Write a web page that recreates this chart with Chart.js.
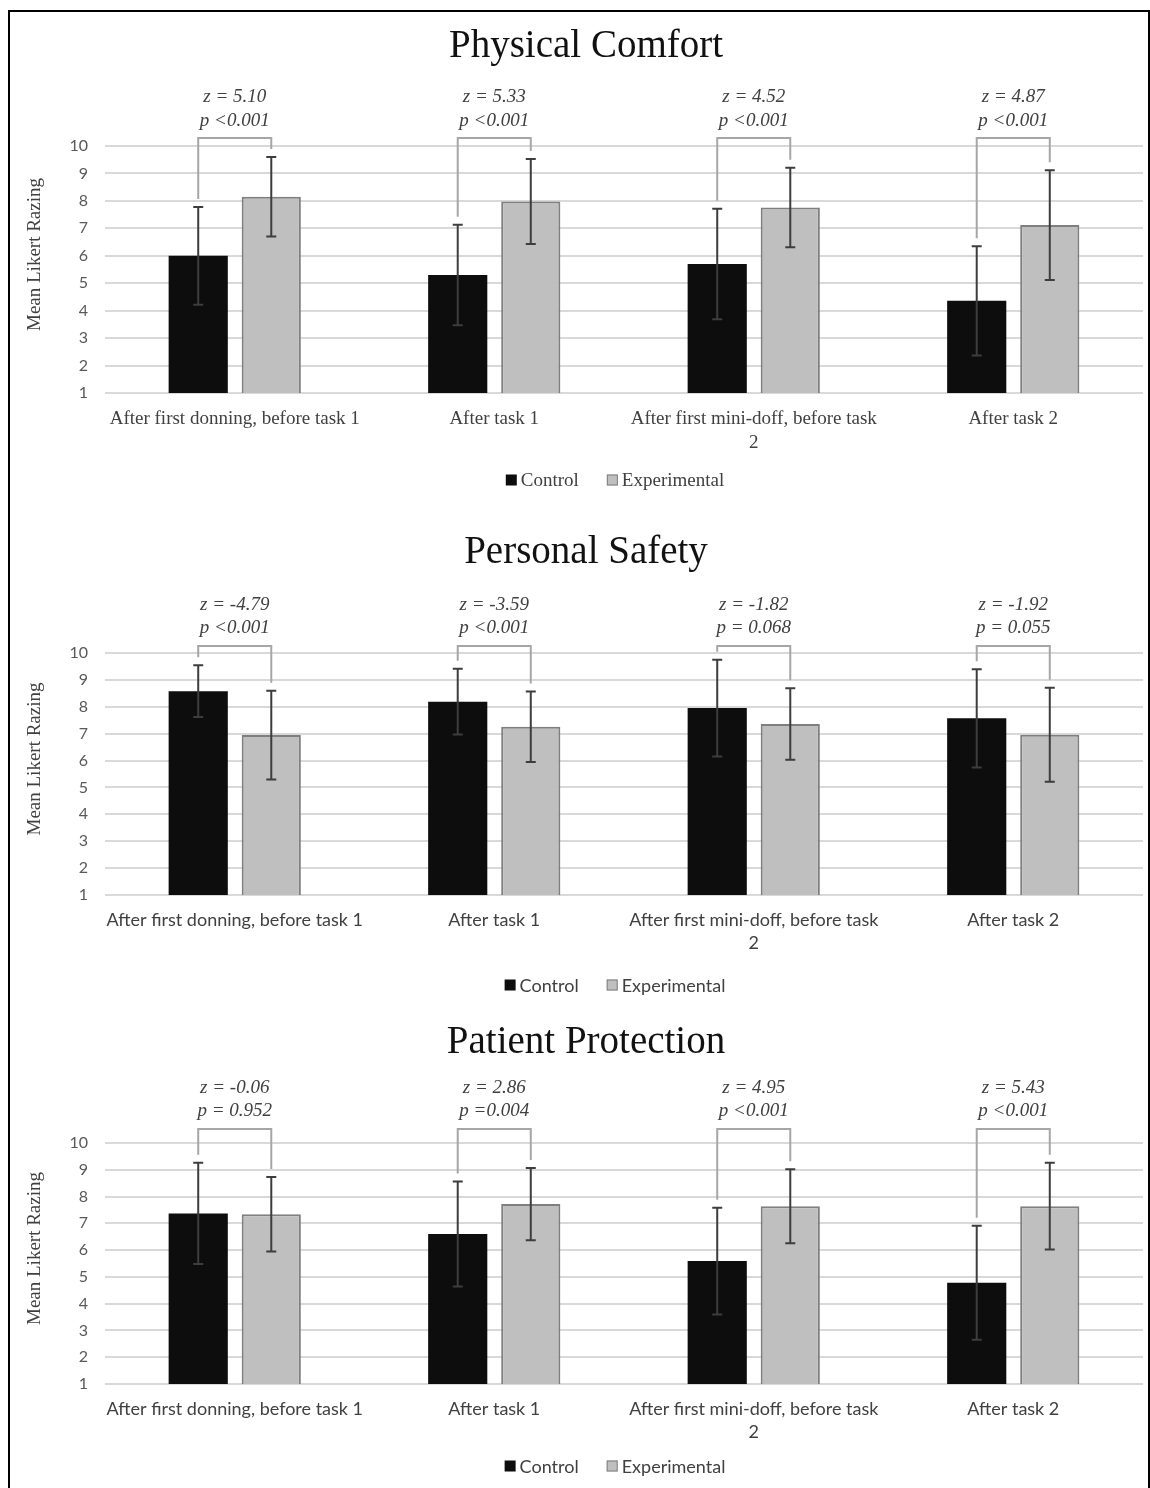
<!DOCTYPE html>
<html>
<head>
<meta charset="utf-8">
<script src="https://cdn.jsdelivr.net/npm/chart.js@4.4.0/dist/chart.umd.min.js"></script>
<style>
  body { margin: 0; background: #fff; width: 1150px; height: 1488px; position: relative; overflow: hidden; }
  #frame { position: absolute; left: 8px; top: 10px; width: 1138px; height: 1520px; border: 2px solid #000; border-bottom: none; }
  .panel { position: absolute; left: 10px; }
  canvas { display: block; }
</style>
</head>
<body>
<div id="frame"></div>
<div class="panel" style="top:12px"><canvas id="comfort" width="1136" height="490"></canvas></div>
<div class="panel" style="top:518px"><canvas id="safety" width="1136" height="485"></canvas></div>
<div class="panel" style="top:1008px"><canvas id="protection" width="1136" height="478"></canvas></div>

<script>
// categories (x axis)
const categories = [
  "After first donning, before task 1",
  "After task 1",
  ["After first mini-doff, before task", "2"],
  "After task 2"
];
const yTicks = [1, 2, 3, 4, 5, 6, 7, 8, 9, 10];

// Physical Comfort
const comfortControl = [6.0, 5.3, 5.7, 4.36];
const comfortControlSd = [1.78, 1.83, 2.01, 1.99];
const comfortExp = [8.15, 7.98, 7.76, 7.12];
const comfortExpSd = [1.45, 1.55, 1.45, 2.0];
const comfortZ = ["z = 5.10", "z = 5.33", "z = 4.52", "z = 4.87"];
const comfortP = ["p <0.001", "p <0.001", "p <0.001", "p <0.001"];

// Personal Safety
const safetyControl = [8.58, 8.19, 7.95, 7.57];
const safetyControlSd = [0.96, 1.22, 1.8, 1.83];
const safetyExp = [6.95, 7.26, 7.36, 6.96];
const safetyExpSd = [1.65, 1.31, 1.33, 1.75];
const safetyZ = ["z = -4.79", "z = -3.59", "z = -1.82", "z = -1.92"];
const safetyP = ["p <0.001", "p <0.001", "p = 0.068", "p = 0.055"];

// Patient Protection
const protectControl = [7.37, 6.6, 5.59, 4.78];
const protectControlSd = [1.89, 1.96, 1.99, 2.13];
const protectExp = [7.34, 7.72, 7.64, 7.64];
const protectExpSd = [1.39, 1.35, 1.38, 1.62];
const protectZ = ["z = -0.06", "z = 2.86", "z = 4.95", "z = 5.43"];
const protectP = ["p = 0.952", "p =0.004", "p <0.001", "p <0.001"];

const yTitle = "Mean Likert Razing";

const SERIF = '"Liberation Serif", "Times New Roman", serif';
const SANS = 'Lato, "Open Sans", sans-serif';

// error bars, brackets, z/p notes, titles and legend
const decorPlugin = {
  id: "decor",
  afterDatasetsDraw(chart, args, opts) {
    const { ctx, chartArea } = chart;
    const y = chart.scales.y;
    const ds = chart.data.datasets;
    const ctrl = chart.getDatasetMeta(0);
    const exp = chart.getDatasetMeta(1);
    ctx.save();

    // error bars
    [ctrl, exp].forEach((meta, di) => {
      meta.data.forEach((bar, i) => {
        const m = ds[di].data[i], e = ds[di].errors[i];
        const yt = y.getPixelForValue(m + e), yb = y.getPixelForValue(m - e);
        ctx.strokeStyle = "#3d3d3d";
        ctx.lineWidth = 2;
        ctx.beginPath();
        ctx.moveTo(bar.x, yt); ctx.lineTo(bar.x, yb);
        ctx.moveTo(bar.x - 5, yt); ctx.lineTo(bar.x + 5, yt);
        ctx.moveTo(bar.x - 5, yb); ctx.lineTo(bar.x + 5, yb);
        ctx.stroke();
      });
    });

    // brackets and test statistics
    const top = y.getPixelForValue(10) - opts.bracketGap;
    ctrl.data.forEach((bar, i) => {
      const bar2 = exp.data[i];
      const y1 = y.getPixelForValue(ds[0].data[i] + ds[0].errors[i]) - 8;
      const y2 = y.getPixelForValue(ds[1].data[i] + ds[1].errors[i]) - 8;
      ctx.strokeStyle = "#a6a6a6";
      ctx.lineWidth = 2;
      ctx.beginPath();
      ctx.moveTo(bar.x, y1); ctx.lineTo(bar.x, top);
      ctx.lineTo(bar2.x, top); ctx.lineTo(bar2.x, y2);
      ctx.stroke();

      const cx = (bar.x + bar2.x) / 2;
      ctx.fillStyle = "#404040";
      ctx.font = "italic 19px " + SERIF;
      ctx.textAlign = "center";
      ctx.textBaseline = "alphabetic";
      ctx.fillText(opts.z[i], cx, chartArea.top - opts.zGap);
      ctx.fillText(opts.p[i], cx, chartArea.top - opts.pGap);
    });

    // chart title
    ctx.fillStyle = "#111";
    ctx.font = "39px " + SERIF;
    ctx.textAlign = "center";
    ctx.textBaseline = "middle";
    ctx.fillText(opts.title, 576, 35);

    // y axis title
    ctx.save();
    ctx.translate(25, (chartArea.top + chartArea.bottom) / 2 - 15);
    ctx.rotate(-Math.PI / 2);
    ctx.fillStyle = "#404040";
    ctx.font = "19px " + SERIF;
    ctx.fillText(yTitle, 0, 0);
    ctx.restore();

    // legend
    ctx.font = opts.legendFont;
    const items = ds.map(d => ({ text: d.label, fill: d.backgroundColor, stroke: d.borderColor, w: ctx.measureText(d.label).width }));
    const box = 11, gap = 4, spacing = 28;
    const total = items.reduce((s, it) => s + box + gap + it.w, 0) + spacing * (items.length - 1);
    let x = (chartArea.left + chartArea.right) / 2 - 9 - total / 2;
    items.forEach(it => {
      ctx.fillStyle = it.fill;
      ctx.fillRect(x, opts.legendY - box / 2, box, box);
      if (it.stroke !== it.fill) {
        ctx.strokeStyle = it.stroke;
        ctx.lineWidth = 1;
        ctx.strokeRect(x + 0.5, opts.legendY - box / 2 + 0.5, box - 1, box - 1);
      }
      ctx.fillStyle = "#404040";
      ctx.textAlign = "left";
      ctx.fillText(it.text, x + box + gap, opts.legendY + 1);
      x += box + gap + it.w + spacing;
    });
    ctx.restore();
  }
};

function buildChart(id, cfg) {
  return new Chart(document.getElementById(id), {
    type: "bar",
    data: {
      labels: categories,
      datasets: [
        { label: "Control", data: cfg.control, errors: cfg.controlSd, backgroundColor: "#0d0d0d", borderColor: "#0d0d0d", borderWidth: 0 },
        { label: "Experimental", data: cfg.exp, errors: cfg.expSd, backgroundColor: "#bfbfbf", borderColor: "#7f7f7f", borderWidth: 2 }
      ]
    },
    options: {
      responsive: false,
      animation: false,
      datasets: { bar: { categoryPercentage: 0.563, barPercentage: 0.81 } },
      layout: { padding: { top: cfg.padTop, right: 3, bottom: cfg.padBottom, left: 0 } },
      plugins: {
        legend: { display: false },
        title: { display: false },
        tooltip: { enabled: false },
        decor: {
          title: cfg.title, z: cfg.z, p: cfg.p,
          zGap: cfg.zGap, pGap: cfg.pGap, bracketGap: cfg.bracketGap,
          legendY: cfg.legendY, legendFont: cfg.legendFont
        }
      },
      scales: {
        x: {
          grid: { display: false },
          border: { display: false },
          ticks: {
            autoSkip: false, maxRotation: 0, padding: 6,
            color: "#404040",
            font: { family: cfg.labelFamily, size: cfg.labelSize, lineHeight: 1.25 }
          },
          afterFit: s => { s.height = 60; }
        },
        y: {
          min: 1, max: 10,
          afterBuildTicks: s => { s.ticks = yTicks.map(v => ({ value: v })); },
          grid: { color: "#d9d9d9", lineWidth: 2, drawTicks: false },
          border: { display: false },
          ticks: { padding: 17, color: "#595959", font: { family: SANS, size: 16 } },
          afterFit: s => { s.width = 95; }
        }
      }
    },
    plugins: [decorPlugin]
  });
}

buildChart("comfort", {
  title: "Physical Comfort",
  control: comfortControl, controlSd: comfortControlSd, exp: comfortExp, expSd: comfortExpSd,
  z: comfortZ, p: comfortP,
  padTop: 134, padBottom: 49, zGap: 44, pGap: 20, bracketGap: 8,
  legendY: 468, legendFont: "19px " + SERIF,
  labelFamily: SERIF, labelSize: 19
});

buildChart("safety", {
  title: "Personal Safety",
  control: safetyControl, controlSd: safetyControlSd, exp: safetyExp, expSd: safetyExpSd,
  z: safetyZ, p: safetyP,
  padTop: 135, padBottom: 48, zGap: 43, pGap: 20, bracketGap: 7,
  legendY: 467, legendFont: "18px " + SANS,
  labelFamily: SANS, labelSize: 18
});

buildChart("protection", {
  title: "Patient Protection",
  control: protectControl, controlSd: protectControlSd, exp: protectExp, expSd: protectExpSd,
  z: protectZ, p: protectP,
  padTop: 135, padBottom: 42, zGap: 50, pGap: 27, bracketGap: 14,
  legendY: 458, legendFont: "18px " + SANS,
  labelFamily: SANS, labelSize: 18
});
</script>
</body>
</html>
